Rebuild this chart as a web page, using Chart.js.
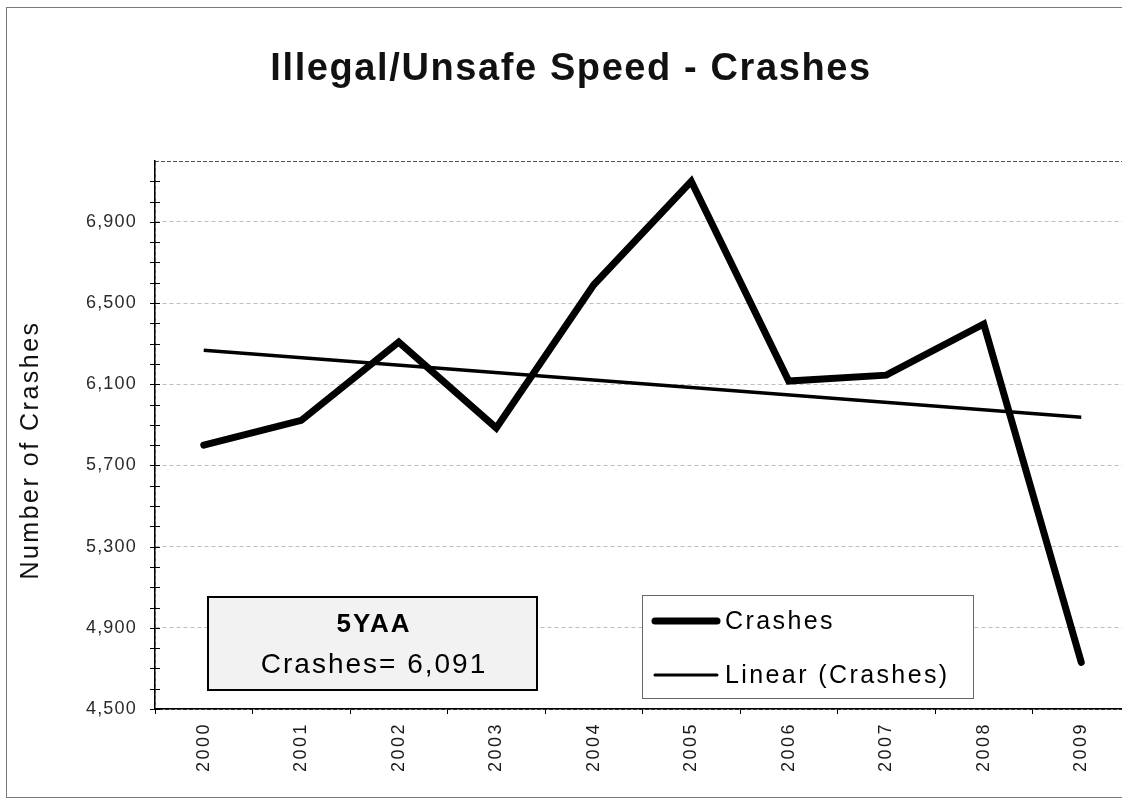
<!DOCTYPE html>
<html>
<head>
<meta charset="utf-8">
<title>Illegal/Unsafe Speed - Crashes</title>
<script src="https://cdn.jsdelivr.net/npm/chart.js@4.4.1/dist/chart.umd.min.js"></script>
<style>
    html, body { margin: 0; padding: 0; background: #fff; overflow: hidden; }
    #wrap { width: 1140px; height: 802px; }
</style>
</head>
<body>
<div id="wrap"><canvas id="crashChart" width="1140" height="802"></canvas></div>
<script>
// Chart data
const years = ['2000', '2001', '2002', '2003', '2004', '2005', '2006', '2007', '2008', '2009'];
const crashes = [5800, 5922, 6308, 5885, 6590, 7100, 6116, 6145, 6397, 4730];
const trendEnds = [6268, 5938];          // Linear (Crashes) at 2000 and 2009
const yMin = 4500;
const yMax = 7200;
const yMajor = 400;
const yMinor = 100;
const avgTitle = '5YAA';
const avgText = 'Crashes= 6,091';
const seriesNames = ['Crashes', 'Linear (Crashes)'];

const FONT = '"Liberation Sans", Arial, sans-serif';

// straight trend line: only the two end points, gaps spanned
const trend = years.map((y, i) => {
    if (i === 0) return trendEnds[0];
    if (i === years.length - 1) return trendEnds[1];
    return null;
});

// wraps axis label drawing so the scanned letter spacing can be mimicked
const spacedLabels = {
    id: 'spacedLabels',
    afterLayout(chart) {
        [['x', '2.5px'], ['y', '1.2px']].forEach(([id, sp]) => {
            const s = chart.scales[id];
            if (s._spaced) return;
            const drawLabels = s.drawLabels.bind(s);
            s.drawLabels = function(area) {
                const c = this.ctx;
                c.save();
                c.letterSpacing = sp;
                drawLabels(area);
                c.restore();
            };
            s._spaced = true;
        });
    }
};

// frame, title, minor ticks, text box and legend
const decor = {
    id: 'decor',
    beforeDraw(chart) {
        const { ctx, chartArea: a } = chart;
        ctx.save();
        ctx.fillStyle = '#fff';
        ctx.fillRect(0, 0, chart.width, chart.height);
        ctx.strokeStyle = '#7a7a7a';
        ctx.lineWidth = 1;
        ctx.strokeRect(6.5, 7.5, 1128, 790);
        ctx.setLineDash([4, 2]);
        ctx.strokeStyle = '#555';
        ctx.strokeRect(a.left, a.top + 0.5, a.right - a.left, a.bottom - a.top);
        ctx.restore();
    },
    afterDraw(chart) {
        const { ctx } = chart;
        const yScale = chart.scales.y;
        ctx.save();

        // title
        ctx.fillStyle = '#111';
        ctx.font = 'bold 38px ' + FONT;
        ctx.letterSpacing = '1.6px';
        ctx.textAlign = 'center';
        ctx.textBaseline = 'alphabetic';
        ctx.fillText('Illegal/Unsafe Speed - Crashes', 571, 80);

        // y axis title
        ctx.save();
        ctx.translate(31, 450);
        ctx.rotate(-Math.PI / 2);
        ctx.font = '25px ' + FONT;
        ctx.letterSpacing = '2.5px';
        ctx.textBaseline = 'middle';
        ctx.fillText('Number of Crashes', 0, 0);
        ctx.restore();

        // cross tick marks on the value axis
        ctx.letterSpacing = '0px';
        ctx.strokeStyle = '#000';
        ctx.lineWidth = 1;
        for (let v = yMin; v < yMax; v += yMinor) {
            const py = Math.round(yScale.getPixelForValue(v)) + 0.5;
            ctx.beginPath();
            ctx.moveTo(yScale.right - 5, py);
            ctx.lineTo(yScale.right + 5, py);
            ctx.stroke();
        }

        // 5 year average box
        ctx.fillStyle = '#f2f2f2';
        ctx.fillRect(208, 597, 329, 93);
        ctx.lineWidth = 2;
        ctx.strokeRect(208, 597, 329, 93);
        ctx.fillStyle = '#000';
        ctx.textAlign = 'center';
        ctx.textBaseline = 'middle';
        ctx.font = 'bold 26px ' + FONT;
        ctx.letterSpacing = '2px';
        ctx.fillText(avgTitle, 374, 625);
        ctx.font = '28px ' + FONT;
        ctx.fillText(avgText, 374, 665);

        // legend
        ctx.fillStyle = '#fff';
        ctx.fillRect(642, 595, 331, 103);
        ctx.strokeStyle = '#666';
        ctx.lineWidth = 1;
        ctx.strokeRect(642.5, 595.5, 331, 103);
        const rows = [[621, 7], [675, 3]];
        ctx.strokeStyle = '#000';
        ctx.lineCap = 'round';
        rows.forEach(([ry, w], i) => {
            ctx.lineWidth = w;
            ctx.beginPath();
            ctx.moveTo(655, ry);
            ctx.lineTo(717, ry);
            ctx.stroke();
            ctx.fillStyle = '#000';
            ctx.font = '25px ' + FONT;
            ctx.letterSpacing = '2.4px';
            ctx.textAlign = 'left';
            ctx.fillText(seriesNames[i], 725, ry + 1);
        });

        ctx.restore();
    }
};

new Chart(document.getElementById('crashChart').getContext('2d'), {
    type: 'line',
    data: {
        labels: years,
        datasets: [{
            label: seriesNames[0],
            data: crashes,
            borderColor: '#000',
            borderWidth: 7,
            borderJoinStyle: 'miter',
            borderCapStyle: 'round',
            pointRadius: 0,
            tension: 0
        }, {
            label: seriesNames[1],
            data: trend,
            spanGaps: true,
            borderColor: '#000',
            borderWidth: 3.5,
            pointRadius: 0,
            tension: 0
        }]
    },
    options: {
        responsive: false,
        animation: false,
        layout: {
            padding: { top: 161, right: 10, left: 0, bottom: 0 }
        },
        plugins: {
            legend: { display: false },
            title: { display: false },
            tooltip: { enabled: false }
        },
        scales: {
            x: {
                type: 'category',
                offset: true,
                afterFit(scale) { scale.height = 93; },
                grid: {
                    offset: true,
                    drawOnChartArea: false,
                    drawTicks: true,
                    tickLength: 5,
                    tickColor: '#000'
                },
                border: { color: '#000', width: 1.5 },
                ticks: {
                    autoSkip: false,
                    minRotation: 90,
                    maxRotation: 90,
                    padding: 8,
                    color: '#1a1a1a',
                    font: { family: FONT, size: 18 }
                }
            },
            y: {
                min: yMin,
                max: yMax,
                afterFit(scale) { scale.width = 155; },
                afterBuildTicks(scale) {
                    const t = [];
                    for (let v = yMin; v < yMax; v += yMinor) t.push({ value: v });
                    scale.ticks = t;
                },
                grid: {
                    drawTicks: false,
                    lineWidth: 1,
                    color: (c) => (c.tick && c.tick.value !== yMin && (c.tick.value - yMin) % yMajor === 0)
                        ? '#bdbdbd' : 'rgba(0,0,0,0)'
                },
                border: { color: '#000', width: 1.5, dash: [4, 3] },
                ticks: {
                    autoSkip: false,
                    padding: 18,
                    color: '#2a2a2a',
                    font: { family: FONT, size: 18 },
                    callback: (v) => ((v - yMin) % yMajor === 0 ? v.toLocaleString('en-US') : '')
                }
            }
        }
    },
    plugins: [spacedLabels, decor]
});
</script>
</body>
</html>
